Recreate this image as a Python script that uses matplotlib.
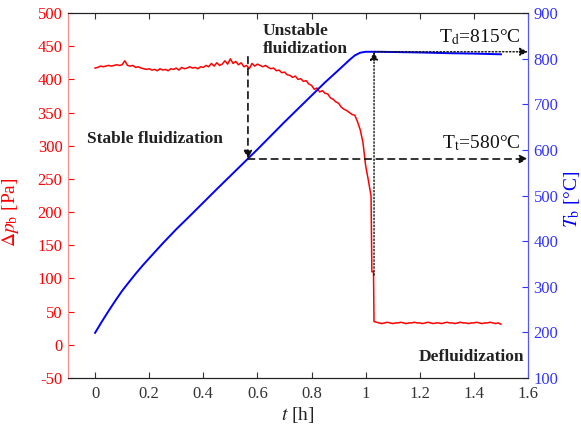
import numpy as np
import matplotlib
matplotlib.use("Agg")
import matplotlib.pyplot as plt

plt.rcParams['font.family'] = ['Liberation Serif', 'DejaVu Serif']
plt.rcParams['mathtext.fontset'] = 'stix'
plt.rcParams['axes.unicode_minus'] = False

# Bed pressure drop (Pa), sampled every 0.01 h up to 1.02 h
dp_pre = [417, 418, 420, 419, 420, 421, 420, 421, 422, 421,
          422, 428, 421, 420, 421, 418, 419, 417, 416, 415,
          416, 414, 415, 413, 416, 414, 415, 413, 416, 415,
          417, 414, 418, 416, 417, 419, 417, 418, 416, 419,
          418, 421, 419, 424, 420, 425, 421, 423, 428, 423,
          431, 424, 427, 422, 425, 419, 421, 416, 424, 420,
          423, 421, 419, 421, 418, 416, 417, 413, 414, 410,
          411, 407, 406, 403, 405, 400, 401, 397, 398, 393,
          391, 385, 387, 381, 383, 379, 378, 372, 370, 366,
          364, 358, 355, 353, 350, 347, 346, 336, 324, 305,
          270, 248, 224]
t_pre = np.linspace(0.0, 1.02, len(dp_pre))

# Collapse of the bed
t_drop = [1.023, 1.029, 1.031]
dp_drop = [110, 110, 35]

# Defluidized bed, sampled every 0.01 h from 1.04 h
dp_post = [34, 33, 32, 33, 34, 33, 32, 33, 33, 34,
           33, 32, 33, 33, 34, 33, 33, 32, 33, 34,
           33, 32, 33, 33, 32, 33, 34, 33, 33, 32,
           33, 34, 33, 33, 32, 33, 33, 34, 33, 32,
           33, 33, 34, 33, 32, 33, 31]
t_post = np.linspace(1.04, 1.50, len(dp_post))

t_dp = np.concatenate([t_pre, t_drop, t_post])
dp = np.concatenate([dp_pre, dp_drop, dp_post])

# Bed temperature (°C)
t_T = [0, 0.025, 0.05, 0.075, 0.1, 0.125, 0.15, 0.175, 0.2, 0.25, 0.3,
       0.35, 0.4, 0.45, 0.5, 0.55, 0.6, 0.65, 0.7, 0.75, 0.8, 0.85, 0.9,
       0.92, 0.94, 0.96, 0.98, 1.0, 1.05, 1.1, 1.2, 1.3, 1.4, 1.5]
T_b = [199, 223.5, 247, 269.5, 291, 310, 328.5, 346, 362.5, 395, 426,
       455, 484.5, 514, 543, 572, 601, 631, 661, 690, 719, 748, 775,
       786, 797, 807, 813, 815, 815, 814.5, 813.5, 812, 811, 809.5]

# Characteristic points
t_trans, T_trans, dp_trans_top = 0.565, 580, 434
t_defl, T_defl, dp_defl = 1.031, 815, 105

x_ticks = [0, 0.2, 0.4, 0.6, 0.8, 1, 1.2, 1.4, 1.6]
x_ticklabels = ['0', '0.2', '0.4', '0.6', '0.8', '1', '1.2', '1.4', '1.6']
dp_ticks = list(range(-50, 501, 50))
T_ticks = list(range(100, 901, 100))

red = '#ff0000'
blue = '#0000ff'

fig = plt.figure(figsize=(5.81, 4.29), dpi=100)
ax = fig.add_axes([68 / 581, 1 - 378 / 429, 460 / 581, 365 / 429])
ax2 = ax.twinx()

ax.plot(t_dp, dp, color=red, lw=1.1, zorder=3)
ax2.plot(t_T, T_b, color=blue, lw=1.4, zorder=3)

ax.set_xlim(-0.1, 1.6)
ax.set_ylim(-50, 500)
ax2.set_ylim(100, 900)

ax.set_xticks(x_ticks)
ax.set_xticklabels(x_ticklabels)
ax.set_yticks(dp_ticks)
ax2.set_yticks(T_ticks)

ax.tick_params(axis='x', direction='in', length=4, labelsize=12,
               colors='#333333', top=True, pad=6)
ax.tick_params(axis='y', direction='in', length=4, labelsize=12,
               colors=red, pad=4)
ax2.tick_params(axis='y', direction='in', length=4, labelsize=12,
                colors='#3333ff', pad=4)

for a in (ax, ax2):
    a.spines['left'].set_color('#ff8c8c')
    a.spines['right'].set_color('#5555ff')
    a.spines['top'].set_color('#222222')
    a.spines['bottom'].set_color('#222222')

ax.set_xlabel(r'$t$ [h]', fontsize=14, color='#222222', labelpad=2)
ax.set_ylabel(r'$\Delta p_{\mathrm{b}}$ [Pa]', fontsize=14, color=red)
ax.yaxis.set_label_coords(-0.102, 0.455)
ax2.set_ylabel(r'$T_{\mathrm{b}}$ [°C]', fontsize=14, color=blue)
ax2.yaxis.label.set_va('center')
ax2.yaxis.label.set_ha('center')
ax2.yaxis.set_label_coords(1.095, 0.49)

# Transition arrows (dashed)
ax2.annotate('', xy=(t_trans, T_trans), xycoords='data',
             xytext=(t_trans, dp_trans_top), textcoords=ax.transData,
             arrowprops=dict(arrowstyle='-|>', color='#111111', lw=1.2,
                             linestyle=(0, (4, 3)), mutation_scale=12,
                             shrinkA=0, shrinkB=0))
ax2.annotate('', xy=(1.6, T_trans), xytext=(t_trans, T_trans),
             arrowprops=dict(arrowstyle='-|>', color='#111111', lw=1.2,
                             linestyle=(0, (4, 3)), mutation_scale=12,
                             shrinkA=0, shrinkB=0))

# Defluidization arrows (dotted)
ax2.annotate('', xy=(t_defl, T_defl), xycoords='data',
             xytext=(t_defl, dp_defl), textcoords=ax.transData,
             arrowprops=dict(arrowstyle='-|>', color='#111111', lw=1.0,
                             linestyle=(0, (1, 1.5)), mutation_scale=12,
                             shrinkA=0, shrinkB=0))
ax2.annotate('', xy=(1.6, T_defl), xytext=(t_defl, T_defl),
             arrowprops=dict(arrowstyle='-|>', color='#111111', lw=1.0,
                             linestyle=(0, (1, 1.5)), mutation_scale=12,
                             shrinkA=0, shrinkB=0))

ax2.text(1.574, 847, r'T$_{\mathrm{d}}$=815°C', fontsize=14,
         ha='right', va='center', color='#111111')
ax2.text(1.574, 615, r'T$_{\mathrm{t}}$=580°C', fontsize=14,
         ha='right', va='center', color='#111111')

ax.text(-0.03, 310, 'Stable fluidization', fontsize=12.5, fontweight='bold',
        ha='left', va='center', color='#222222')
ax.text(0.619, 459, 'Unstable\nfluidization', fontsize=12.5,
        fontweight='bold', ha='left', va='center', color='#222222',
        linespacing=1.15)
ax.text(1.585, -18, 'Defluidization', fontsize=12.5, fontweight='bold',
        ha='right', va='center', color='#222222')

fig.savefig('out.png', dpi=100)
